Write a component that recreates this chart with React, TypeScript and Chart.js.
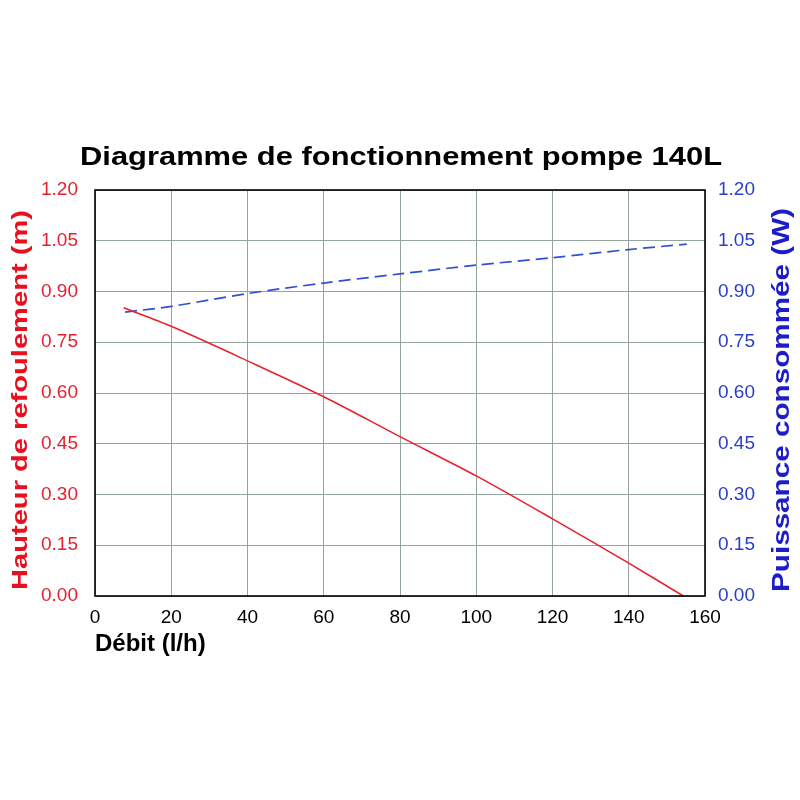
import React, { useEffect, useRef } from "react";
import { Chart, registerables } from "chart.js";

Chart.register(...registerables);

const title = "Diagramme de fonctionnement pompe 140L";
const xTitle = "Débit (l/h)";
const leftTitle = "Hauteur de refoulement (m)";
const rightTitle = "Puissance consommée (W)";

const headFlow = [7.5, 20, 40, 60, 80, 100, 120, 140, 154.3];
const headValues = [0.852, 0.797, 0.695, 0.589, 0.471, 0.355, 0.228, 0.097, 0];

const powerFlow = [7.9, 20, 40, 60, 80, 100, 120, 140, 155.2];
const powerValues = [0.839, 0.856, 0.894, 0.925, 0.952, 0.978, 1.0, 1.024, 1.04];

const FONT = "'Liberation Sans', Arial, sans-serif";

function drawStretched(
  ctx: CanvasRenderingContext2D,
  text: string,
  x: number,
  y: number,
  rot: number,
  font: string,
  color: string,
  targetLen: number
) {
  ctx.save();
  ctx.font = font;
  ctx.fillStyle = color;
  ctx.textAlign = "center";
  ctx.textBaseline = "alphabetic";
  ctx.translate(x, y);
  ctx.rotate(rot);
  const w = ctx.measureText(text).width;
  ctx.scale(targetLen / w, 1);
  ctx.fillText(text, 0, 0);
  ctx.restore();
}

const decorPlugin = {
  id: "decor",
  afterDraw(chart: any) {
    const ctx = chart.ctx as CanvasRenderingContext2D;
    const a = chart.chartArea;
    ctx.save();
    ctx.strokeStyle = "#000000";
    ctx.lineWidth = 1.6;
    ctx.strokeRect(a.left, a.top, a.right - a.left, a.bottom - a.top);
    ctx.restore();
    drawStretched(ctx, title, 401, 165, 0, `bold 26px ${FONT}`, "#000000", 642);
    drawStretched(ctx, leftTitle, 27, 400, -Math.PI / 2, `bold 22px ${FONT}`, "#e8101e", 380);
    drawStretched(ctx, rightTitle, 788.5, 400, -Math.PI / 2, `bold 23px ${FONT}`, "#1c1cc8", 384);
  },
};

export default function App() {
  const ref = useRef<HTMLCanvasElement | null>(null);

  useEffect(() => {
    if (!ref.current) return;
    const chart = new Chart(ref.current, {
      type: "line",
      data: {
        datasets: [
          {
            label: "Hauteur",
            data: headFlow.map((x, i) => ({ x, y: headValues[i] })),
            borderColor: "#e82030",
            borderWidth: 1.6,
            pointRadius: 0,
            tension: 0.3,
            yAxisID: "y",
          },
          {
            label: "Puissance",
            data: powerFlow.map((x, i) => ({ x, y: powerValues[i] })),
            borderColor: "#3050d0",
            borderWidth: 1.7,
            borderDash: [12, 6],
            pointRadius: 0,
            tension: 0.3,
            yAxisID: "y1",
          },
        ],
      },
      options: {
        responsive: false,
        animation: false,
        layout: { padding: { left: 0, right: 0, top: 190, bottom: 141 } },
        plugins: { legend: { display: false }, tooltip: { enabled: false }, title: { display: false } },
        scales: {
          x: {
            type: "linear",
            min: 0,
            max: 160,
            ticks: { stepSize: 20, color: "#000000", font: { family: FONT, size: 19 }, padding: 10, maxRotation: 0 },
            grid: { color: "#94a39c", lineWidth: 1, drawTicks: false },
            border: { display: false },
            title: {
              display: true,
              text: xTitle,
              align: "start",
              color: "#000000",
              font: { family: FONT, size: 24, weight: "bold" },
              padding: { top: 0, bottom: 0 },
            },
            afterFit(scale: any) {
              scale.height = 63;
            },
          },
          y: {
            type: "linear",
            position: "left",
            min: 0,
            max: 1.2,
            ticks: {
              stepSize: 0.15,
              color: "#e6202e",
              font: { family: FONT, size: 19 },
              padding: 17,
              callback: (v: any) => Number(v).toFixed(2),
            },
            grid: { color: "#94a39c", lineWidth: 1, drawTicks: false },
            border: { display: false },
            afterFit(scale: any) {
              scale.width = 95;
            },
          },
          y1: {
            type: "linear",
            position: "right",
            min: 0,
            max: 1.2,
            ticks: {
              stepSize: 0.15,
              color: "#2a3ec8",
              font: { family: FONT, size: 19 },
              padding: 13,
              callback: (v: any) => Number(v).toFixed(2),
            },
            grid: { display: false, drawTicks: false },
            border: { display: false },
            afterFit(scale: any) {
              scale.width = 95;
            },
          },
        },
      },
      plugins: [decorPlugin],
    } as any);
    return () => chart.destroy();
  }, []);

  return (
    <div style={{ position: "absolute", left: 0, top: 0, width: 800, height: 800, background: "#ffffff" }}>
      <canvas ref={ref} width={800} height={800} style={{ display: "block", width: 800, height: 800 }} />
    </div>
  );
}
